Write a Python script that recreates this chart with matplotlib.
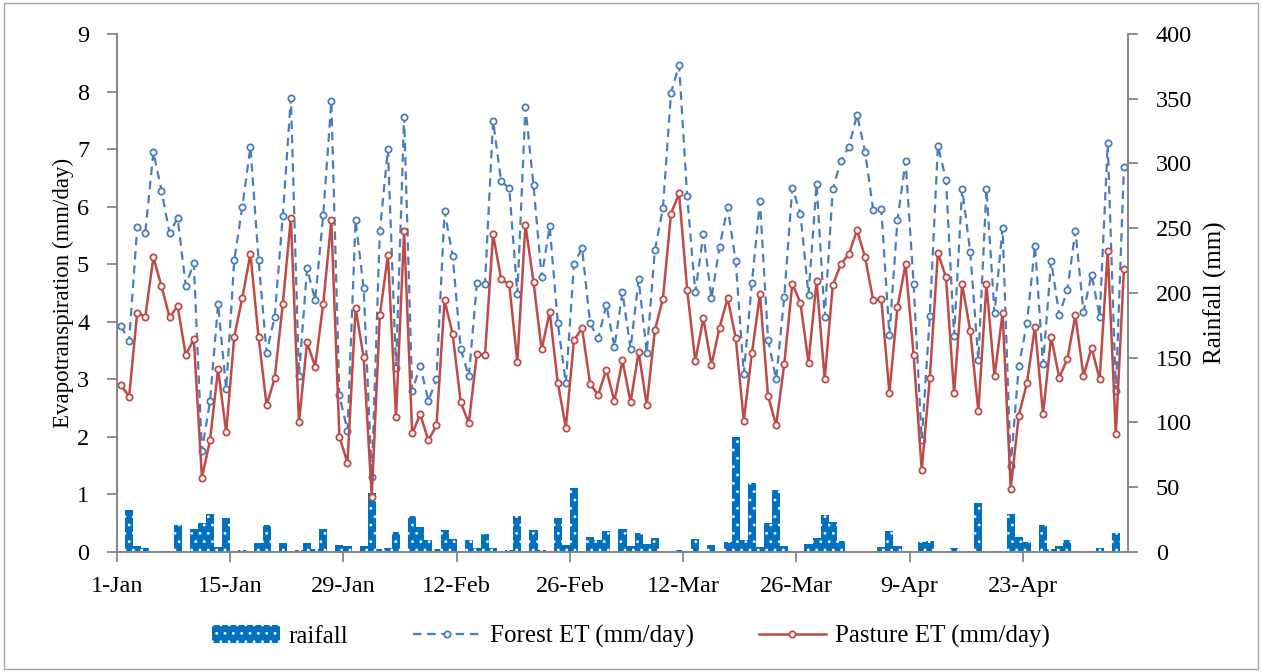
import numpy as np
import pandas as pd
import matplotlib
matplotlib.use('Agg')
import matplotlib.pyplot as plt
import matplotlib.dates as mdates
from matplotlib.patches import Rectangle

plt.rcParams['font.family'] = ['Liberation Serif', 'DejaVu Serif']
plt.rcParams['hatch.linewidth'] = 0.8

# daily values, 1-Jan .. 5-May
forest = [3.93, 3.66, 5.64, 5.55, 6.95, 6.28, 5.54, 5.80, 4.63, 5.02,
          1.76, 2.62, 4.31, 2.83, 5.07, 6.00, 7.04, 5.08, 3.46, 4.09,
          5.84, 7.89, 3.06, 4.93, 4.38, 5.85, 7.83, 2.72, 2.11, 5.76,
          4.59, 1.30, 5.58, 7.00, 3.19, 7.56, 2.80, 3.23, 2.63, 3.00,
          5.92, 5.15, 3.53, 3.05, 4.67, 4.65, 7.49, 6.44, 6.32, 4.48,
          7.73, 6.37, 4.78, 5.66, 3.98, 2.93, 5.00, 5.28, 3.97, 3.71,
          4.30, 3.56, 4.51, 3.53, 4.74, 3.46, 5.24, 5.97, 7.98, 8.46,
          6.18, 4.51, 5.52, 4.41, 5.30, 5.99, 5.05, 3.09, 4.68, 6.09,
          3.69, 3.00, 4.43, 6.33, 5.88, 4.47, 6.39, 4.08, 6.30, 6.80,
          7.04, 7.60, 6.95, 5.94, 5.96, 3.77, 5.77, 6.79, 4.65, 1.94,
          4.10, 7.06, 6.47, 3.76, 6.31, 5.21, 3.33, 6.31, 4.15, 5.63,
          1.49, 3.23, 3.97, 5.32, 3.26, 5.06, 4.12, 4.55, 5.58, 4.17,
          4.82, 4.09, 7.10, 2.79, 6.69]

pasture = [2.90, 2.70, 4.16, 4.09, 5.12, 4.62, 4.08, 4.27, 3.42, 3.70,
           1.29, 1.94, 3.18, 2.08, 3.74, 4.42, 5.18, 3.74, 2.55, 3.02,
           4.31, 5.81, 2.25, 3.64, 3.22, 4.31, 5.76, 2.00, 1.55, 4.24,
           3.38, 0.96, 4.11, 5.16, 2.35, 5.57, 2.06, 2.39, 1.94, 2.20,
           4.37, 3.79, 2.60, 2.24, 3.44, 3.42, 5.52, 4.74, 4.65, 3.30,
           5.69, 4.69, 3.52, 4.17, 2.94, 2.16, 3.68, 3.89, 2.92, 2.73,
           3.17, 2.62, 3.33, 2.60, 3.48, 2.55, 3.85, 4.40, 5.88, 6.23,
           4.55, 3.32, 4.06, 3.25, 3.90, 4.41, 3.72, 2.28, 3.45, 4.48,
           2.71, 2.20, 3.26, 4.66, 4.33, 3.29, 4.71, 3.00, 4.64, 5.00,
           5.18, 5.59, 5.12, 4.37, 4.39, 2.77, 4.25, 5.00, 3.42, 1.42,
           3.03, 5.20, 4.77, 2.76, 4.65, 3.84, 2.45, 4.65, 3.05, 4.15,
           1.10, 2.37, 2.93, 3.91, 2.40, 3.74, 3.03, 3.35, 4.11, 3.06,
           3.55, 3.00, 5.23, 2.05, 4.92]

rain = [0, 32.3, 4.8, 3.0, 0, 0.8, 0, 20.5, 0, 17.8,
        22.6, 29.1, 4.0, 26.1, 0, 1.6, 0, 7.0, 21.0, 0,
        7.0, 0, 1.6, 7.0, 2.0, 17.8, 0, 5.7, 4.6, 0,
        4.6, 45.8, 2.0, 2.7, 15.6, 0, 28.0, 19.4, 9.2, 2.0,
        17.2, 10.2, 0, 8.9, 3.2, 13.7, 3.0, 0, 1.6, 28.0,
        0, 17.0, 1.3, 1.0, 26.1, 5.4, 49.3, 0, 11.3, 9.2,
        16.4, 0, 17.5, 4.6, 14.5, 5.9, 10.8, 0, 0, 1.6,
        0, 10.2, 0, 5.4, 0, 7.5, 89.1, 9.4, 53.3, 3.5,
        22.3, 47.6, 4.8, 0, 0, 6.2, 11.0, 28.8, 23.1, 8.3,
        0, 0, 0, 0, 4.0, 16.2, 4.8, 1.0, 0, 7.5,
        8.1, 0, 0, 2.7, 0, 0, 37.7, 0, 0.5, 0,
        29.6, 11.6, 7.5, 1.0, 21.0, 2.0, 4.8, 8.9, 0.5, 0,
        1.0, 3.0, 1.0, 15.0, 0]

dates = pd.date_range('2015-01-01', periods=len(forest), freq='D')
xmid = dates + pd.Timedelta(hours=12)

fig = plt.figure(figsize=(12.62, 6.72), dpi=100)
fig.patches.append(Rectangle((0.003, 0.005), 0.994, 0.99, transform=fig.transFigure,
                             fill=False, edgecolor='#a6a6a6', linewidth=1.0))

ax = fig.add_axes([0.0927, 0.1786, 0.8011, 0.7708])
axr = ax.twinx()
ax.set_zorder(axr.get_zorder() + 1)
ax.patch.set_visible(False)

bars = axr.bar(xmid, rain, width=1.0, color='#0070C0', edgecolor='white',
               linewidth=0, hatch='..', label='raifall')
ln1, = ax.plot(xmid, forest, color='#4A7EBB', lw=1.6, ls=(0, (3.8, 2.6)),
               marker='o', ms=4.5, mfc='white', mew=1.3, label='Forest ET (mm/day)')
ln2, = ax.plot(xmid, pasture, color='#BE4B48', lw=1.8, ls='-',
               marker='o', ms=4.5, mfc='white', mew=1.3, label='Pasture ET (mm/day)')

ax.set_xlim(dates[0], dates[-1] + pd.Timedelta(days=1))
ax.set_ylim(0, 9)
ax.set_yticks(range(0, 10))
axr.set_ylim(0, 400)
axr.set_yticks(range(0, 401, 50))

ax.set_xticks(dates[::14])
ax.xaxis.set_major_formatter(mdates.DateFormatter('%-d-%b'))

spine_c = '#868686'
for a in (ax, axr):
    a.spines['top'].set_visible(False)
    for s in ('left', 'right', 'bottom'):
        a.spines[s].set_color(spine_c)
        a.spines[s].set_linewidth(1.3)
    a.tick_params(colors=spine_c, labelcolor='black', labelsize=17.5,
                  length=7, width=1.3, direction='out')
ax.tick_params(axis='x', pad=10)
ax.tick_params(axis='y', pad=13)
axr.tick_params(axis='y', pad=13)

ax.set_ylabel('Evapotranspiration (mm/day)', fontsize=16.5, labelpad=2)
axr.set_ylabel('Rainfall (mm)', fontsize=18, labelpad=8)

fig.legend(handles=[bars, ln1, ln2], loc='center', bbox_to_anchor=(0.5, 0.053),
           ncol=3, frameon=False, fontsize=18, handlelength=2.7,
           columnspacing=2.6, handletextpad=0.35)

fig.savefig('out.png', dpi=100)
